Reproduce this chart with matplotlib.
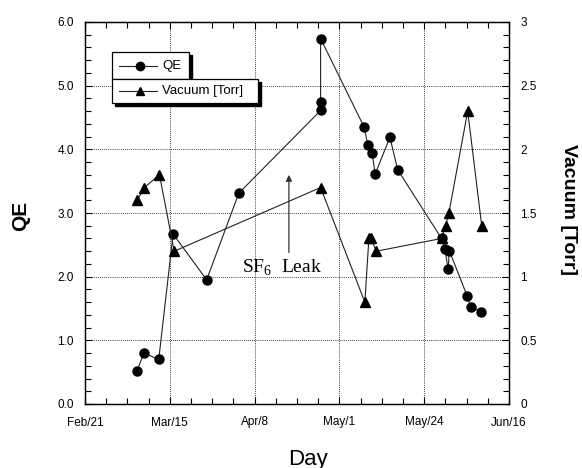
import matplotlib
matplotlib.use("Agg")
import matplotlib.pyplot as plt
from matplotlib.patches import Rectangle
from matplotlib.ticker import MultipleLocator
from matplotlib.lines import Line2D

plt.rcParams['font.family'] = ['Liberation Sans', 'DejaVu Sans']
plt.rcParams['mathtext.fontset'] = 'custom'
plt.rcParams['mathtext.rm'] = 'Liberation Serif'

# Days since Feb 21
qe_day = [14.1, 16.0, 20.0, 23.9, 33.0, 41.7, 63.9, 63.9, 63.9, 75.7, 76.7, 77.9,
          78.7, 82.7, 84.8, 96.7, 97.6, 98.5, 98.8, 103.7, 104.6, 107.5]
qe_val = [0.52, 0.80, 0.70, 2.67, 1.95, 3.31, 4.61, 4.74, 5.74, 4.35, 4.07, 3.94,
          3.61, 4.19, 3.68, 2.60, 2.43, 2.12, 2.41, 1.69, 1.53, 1.45]

vac_day = [14.2, 16.1, 20.2, 24.2, 63.9, 75.9, 77.0, 77.6, 79.0, 96.7, 97.8, 98.7,
           103.8, 107.6]
vac_val = [1.6, 1.7, 1.8, 1.2, 1.7, 0.8, 1.3, 1.3, 1.2, 1.3, 1.4, 1.5, 2.3, 1.4]

x_ticks = [0, 23, 46, 69, 92, 115]
x_labels = ['Feb/21', 'Mar/15', 'Apr/8', 'May/1', 'May/24', 'Jun/16']
qe_ticks = [0.0, 1.0, 2.0, 3.0, 4.0, 5.0, 6.0]
vac_ticks = [0, 0.5, 1, 1.5, 2, 2.5, 3]
vac_labels = ['0', '0.5', '1', '1.5', '2', '2.5', '3']

fig = plt.figure(figsize=(5.82, 4.68), dpi=100)
ax = fig.add_axes([85/582, 1-404/468, 424/582, 382/468])
ax2 = ax.twinx()

lc = '#222222'
ax.plot(qe_day, qe_val, '-', color=lc, lw=0.8, marker='o', ms=6.5,
        mfc='black', mec='black', zorder=3)
ax2.plot(vac_day, vac_val, '-', color=lc, lw=0.8, marker='^', ms=7,
         mfc='black', mec='black', zorder=3)

ax.set_xlim(0, 115)
ax.set_ylim(0, 6)
ax2.set_ylim(0, 3)

ax.set_xticks(x_ticks)
ax.set_xticklabels(x_labels)
ax.set_yticks(qe_ticks)
ax.set_yticklabels([f'{v:.1f}' for v in qe_ticks])
ax2.set_yticks(vac_ticks)
ax2.set_yticklabels(vac_labels)
ax.xaxis.set_minor_locator(MultipleLocator(115/20))
ax.yaxis.set_minor_locator(MultipleLocator(0.2))
ax2.yaxis.set_minor_locator(MultipleLocator(0.1))

ax.tick_params(axis='x', which='both', direction='in', top=True, labelsize=8.5, pad=9)
ax.tick_params(axis='y', which='both', direction='in', right=False, labelsize=8.5, pad=8)
ax2.tick_params(axis='y', which='both', direction='in', labelsize=8.5, pad=8)
for a in (ax, ax2):
    a.tick_params(which='major', length=5, width=0.8)
    a.tick_params(which='minor', length=4, width=0.8)
    for s in a.spines.values():
        s.set_linewidth(0.9)

ax.grid(True, which='major', linestyle=(0, (1, 1.5)), color='black', lw=0.6)

fig.text(21/582, 1-216/468, 'QE', rotation=90, ha='center', va='center',
         fontsize=15, fontweight='bold')
fig.text(569/582, 1-210/468, 'Vacuum [Torr]', rotation=-90, ha='center', va='center',
         fontsize=14, fontweight='bold')
fig.text(308/582, 1-459/468, 'Day', ha='center', va='center', fontsize=16)

# SF6 leak annotation
ax.annotate('', xy=(55.3, 3.6), xytext=(55.3, 2.38),
            arrowprops=dict(arrowstyle='-|>', lw=0.9, color='#333333',
                            mutation_scale=9, shrinkA=0, shrinkB=0))
ax.text(42.6, 2.07, r'SF$_\mathrm{6}$  Leak', fontsize=14,
        family='Liberation Serif', ha='left', va='baseline')

# Manual legend (two shadowed boxes)
T = ax.transAxes
dx, dy = 3/424, 3/382
def box(x0, y0, x1, y1):
    ax.add_patch(Rectangle((x0+dx, y0-dy), x1-x0, y1-y0, transform=T,
                           facecolor='black', edgecolor='black', zorder=5, clip_on=False))
    ax.add_patch(Rectangle((x0, y0), x1-x0, y1-y0, transform=T,
                           facecolor='white', edgecolor='black', lw=0.9, zorder=6, clip_on=False))
box(0.0637, 0.851, 0.245, 0.921)
box(0.0637, 0.788, 0.408, 0.851)
ax.add_line(Line2D([0.080, 0.170], [0.886, 0.886], transform=T, color=lc, lw=0.8, zorder=7))
ax.add_line(Line2D([0.130], [0.886], transform=T, marker='o', ms=6, color='black', zorder=7))
ax.text(0.1823, 0.886, 'QE', transform=T, fontsize=9.5, va='center', ha='left', zorder=7)
ax.add_line(Line2D([0.080, 0.170], [0.820, 0.820], transform=T, color=lc, lw=0.8, zorder=7))
ax.add_line(Line2D([0.130], [0.820], transform=T, marker='^', ms=6, color='black', zorder=7))
ax.text(0.1823, 0.820, 'Vacuum [Torr]', transform=T, fontsize=9.5, va='center', ha='left', zorder=7)

fig.savefig('out.png', dpi=100)
